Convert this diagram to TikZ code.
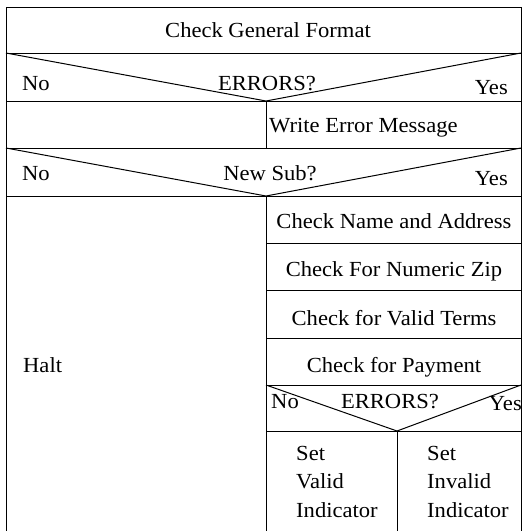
\documentclass[tikz,border=0pt]{standalone}
\usepackage{fontspec}
\setmainfont[FakeStretch=1.05]{Liberation Serif}
\usepackage{tikz}
\tikzstyle{chartline} = [line width=1pt, color=black]
\tikzstyle{lbl} = [inner sep=0pt, font=\fontsize{21.5}{24}\selectfont]

\begin{document}
\begin{tikzpicture}[x=1pt, y=-1pt]
\useasboundingbox (0,0) rectangle (522,531);
% Outer frame and full-width rows
\draw[chartline] (6,531) -- (6,7) -- (521,7) -- (521,531);
\draw[chartline] (6,53) -- (521,53);
\draw[chartline] (6,101) -- (521,101);
\draw[chartline] (6,148) -- (521,148);
\draw[chartline] (6,196) -- (521,196);
% Decision wedges
\draw[chartline] (6,53) -- (266,101) -- (521,53);
\draw[chartline] (6,148) -- (266,196) -- (521,148);
\draw[chartline] (266,385) -- (397,431) -- (521,385);
% Column dividers
\draw[chartline] (266,101) -- (266,148);
\draw[chartline] (266,196) -- (266,531);
\draw[chartline] (397,431) -- (397,531);
% Right column steps
\foreach \y in {243,290,338,385,431}
  \draw[chartline] (266,\y) -- (521,\y);
% Labels
\node[lbl, anchor=base] (fmt) at (268,37) {Check General Format};
\node[lbl, anchor=base west] (no1) at (22,90) {No};
\node[lbl, anchor=base] (err1) at (267,90) {ERRORS?};
\node[lbl, anchor=base east] (yes1) at (508,94) {Yes};
\node[lbl, anchor=base west] (msg) at (269,132) {Write Error Message};
\node[lbl, anchor=base west] (no2) at (22,180) {No};
\node[lbl, anchor=base] (sub) at (270,180) {New Sub?};
\node[lbl, anchor=base east] (yes2) at (508,185) {Yes};
\node[lbl, anchor=base] (name) at (394,228) {Check Name and Address};
\node[lbl, anchor=base] (zip) at (394,276) {Check For Numeric Zip};
\node[lbl, anchor=base] (terms) at (394,325) {Check for Valid Terms};
\node[lbl, anchor=base] (pay) at (394,372) {Check for Payment};
\node[lbl, anchor=base west] (halt) at (23,372) {Halt};
\node[lbl, anchor=base west] (no3) at (271,408) {No};
\node[lbl, anchor=base] (err2) at (390,408) {ERRORS?};
\node[lbl, anchor=base east] (yes3) at (522,410) {Yes};
\node[lbl, anchor=base west] (setv) at (296,460) {Set};
\node[lbl, anchor=base west] (valid) at (296,488) {Valid};
\node[lbl, anchor=base west] (indv) at (296,517) {Indicator};
\node[lbl, anchor=base west] (seti) at (427,460) {Set};
\node[lbl, anchor=base west] (invalid) at (427,488) {Invalid};
\node[lbl, anchor=base west] (indi) at (427,517) {Indicator};
\end{tikzpicture}
\end{document}
